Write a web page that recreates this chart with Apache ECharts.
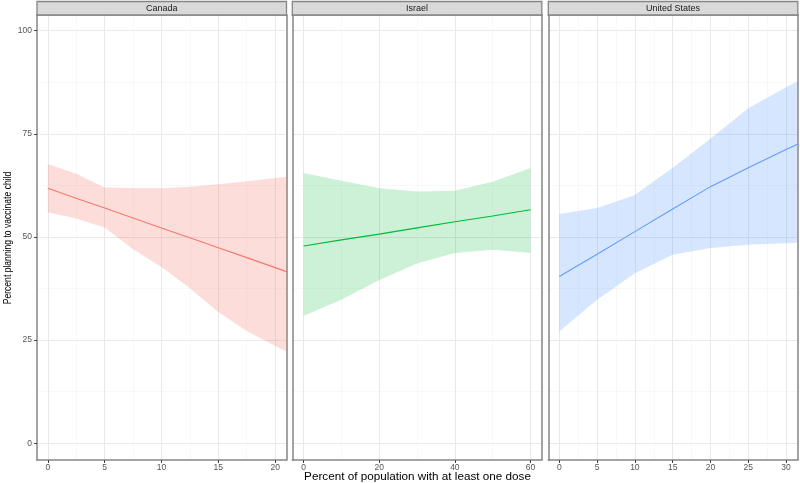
<!DOCTYPE html>
<html><head><meta charset="utf-8">
<script src="https://cdn.jsdelivr.net/npm/echarts@6/dist/echarts.min.js"></script>
<style>html,body{margin:0;padding:0;background:#fff}#c{width:800px;height:483px}</style>
</head><body><div id="c"></div>
<script>
// ---- data ----
const panelNames = ['Canada', 'Israel', 'United States'];
const canadaX = [0, 2.5, 5, 7.5, 10, 12.5, 15, 17.5, 21];
const canadaFit = [61.8, 59.4, 57.0, 54.6, 52.2, 49.8, 47.4, 45.0, 41.6];
const canadaLower = [56.0, 54.5, 52.3, 47.0, 42.7, 37.6, 31.8, 27.2, 22.2];
const canadaUpper = [67.7, 65.3, 62.0, 61.9, 61.8, 62.2, 62.8, 63.5, 64.6];
const israelX = [0, 10, 20, 30, 40, 50, 60];
const israelFit = [47.8, 49.3, 50.7, 52.2, 53.7, 55.1, 56.6];
const israelLower = [30.9, 34.8, 39.6, 43.6, 46.1, 46.9, 46.1];
const israelUpper = [65.5, 63.6, 61.8, 61.0, 61.2, 63.4, 66.7];
const usX = [0, 5, 10, 15, 20, 25, 30, 31.5];
const usFit = [40.4, 45.8, 51.3, 56.8, 62.2, 66.8, 71.2, 72.5];
const usLower = [27.1, 34.8, 41.2, 45.7, 47.3, 48.1, 48.5, 48.6];
const usUpper = [55.6, 57.0, 60.2, 66.8, 73.8, 81.2, 86.3, 87.7];
const yTicks = [0, 25, 50, 75, 100];
const yMinorTicks = [12.5, 37.5, 62.5, 87.5];
const canadaTicks = [0, 5, 10, 15, 20];
const canadaMinorTicks = [2.5, 7.5, 12.5, 17.5];
const israelTicks = [0, 20, 40, 60];
const israelMinorTicks = [10, 30, 50];
const usTicks = [0, 5, 10, 15, 20, 25, 30];
const usMinorTicks = [2.5, 7.5, 12.5, 17.5, 22.5, 27.5];
const xTitle = 'Percent of population with at least one dose';
const yTitle = 'Percent planning to vaccinate child';

// ---- layout / style ----
const panels = [
  {name: panelNames[0], x: canadaX, fit: canadaFit, lo: canadaLower, hi: canadaUpper, ticks: canadaTicks, minor: canadaMinorTicks, range: [-0.95, 21.0], color: '#F8766D', fill: 'rgba(248,118,109,0.25)'},
  {name: panelNames[1], x: israelX, fit: israelFit, lo: israelLower, hi: israelUpper, ticks: israelTicks, minor: israelMinorTicks, range: [-3, 63], color: '#00BA38', fill: 'rgba(0,186,56,0.2)'},
  {name: panelNames[2], x: usX, fit: usFit, lo: usLower, hi: usUpper, ticks: usTicks, minor: usMinorTicks, range: [-1.45, 31.55], color: '#619CFF', fill: 'rgba(97,156,255,0.25)'}
];
const lefts = [37, 292.3, 548.3];
const W = 249.5, TOP = 15, H = 445;
const Y_RANGE = [-4.05, 103.8];
const border = {color: '#858585', width: 1.5};
const majorGrid = {color: '#e9e9e9', width: 1};
const minorGrid = {color: '#f4f4f4', width: 0.6};
const FONT = 'Liberation Sans, Arial, sans-serif';

const grid = [], xAxis = [], yAxis = [], series = [], graphic = [];
panels.forEach((p, i) => {
  grid.push({left: lefts[i], top: TOP, width: W, height: H});
  xAxis.push({
    type: 'value', gridIndex: i, position: 'bottom', min: p.range[0], max: p.range[1],
    axisLine: {show: true, onZero: false, lineStyle: border},
    axisTick: {show: true, length: 3, customValues: p.ticks, lineStyle: {color: '#444', width: 1}},
    axisLabel: {show: true, customValues: p.ticks, margin: 3, fontSize: 8.5, color: '#555', fontFamily: FONT},
    splitLine: {show: true, lineStyle: majorGrid}
  });
  xAxis.push({
    type: 'value', gridIndex: i, position: 'top', min: p.range[0], max: p.range[1],
    axisLine: {show: true, onZero: false, lineStyle: border},
    axisTick: {show: false, customValues: p.minor},
    axisLabel: {show: false, customValues: p.minor},
    splitLine: {show: true, lineStyle: minorGrid}
  });
  yAxis.push({
    type: 'value', gridIndex: i, position: 'left', min: Y_RANGE[0], max: Y_RANGE[1],
    axisLine: {show: true, onZero: false, lineStyle: border},
    axisTick: {show: i === 0, length: 3, customValues: yTicks, lineStyle: {color: '#444', width: 1}},
    axisLabel: {show: i === 0, customValues: yTicks, margin: 5, fontSize: 8.5, color: '#555', fontFamily: FONT},
    splitLine: {show: true, lineStyle: majorGrid}
  });
  yAxis.push({
    type: 'value', gridIndex: i, position: 'right', min: Y_RANGE[0], max: Y_RANGE[1],
    axisLine: {show: true, onZero: false, lineStyle: border},
    axisTick: {show: false, customValues: yMinorTicks},
    axisLabel: {show: false, customValues: yMinorTicks},
    splitLine: {show: true, lineStyle: minorGrid}
  });
  const xi = i * 2, yi = i * 2;
  // confidence ribbon: polygon through upper points then lower points reversed
  series.push({
    type: 'custom', xAxisIndex: xi, yAxisIndex: yi, silent: true, z: 2, clip: true,
    data: [[p.x[0], p.fit[0]]],
    renderItem: function (params, api) {
      const pts = [];
      for (let k = 0; k < p.x.length; k++) pts.push(api.coord([p.x[k], p.hi[k]]));
      for (let k = p.x.length - 1; k >= 0; k--) pts.push(api.coord([p.x[k], p.lo[k]]));
      return {type: 'polygon', shape: {points: pts}, style: {fill: p.fill}};
    }
  });
  series.push({
    type: 'line', xAxisIndex: xi, yAxisIndex: yi, symbol: 'none', z: 3,
    lineStyle: {color: p.color, width: 1.1},
    data: p.x.map((x, k) => [x, p.fit[k]])
  });
  // facet strip
  graphic.push({type: 'rect', shape: {x: lefts[i], y: 1.5, width: W, height: 13.5},
    style: {fill: '#d9d9d9', stroke: border.color, lineWidth: 1.3}, z: 10});
  graphic.push({type: 'text', x: lefts[i] + W / 2, y: 8.3,
    style: {text: p.name, fill: '#1a1a1a', font: '9px ' + FONT, textAlign: 'center', textVerticalAlign: 'middle'}, z: 11});
});
graphic.push({type: 'text', x: 417.5, y: 476.5,
  style: {text: xTitle, fill: '#000', font: '11.7px ' + FONT, textAlign: 'center', textVerticalAlign: 'middle'}});
graphic.push({type: 'text', x: 7.5, y: 238, rotation: Math.PI / 2, scaleX: 0.78,
  style: {text: yTitle, fill: '#000', font: '11px ' + FONT, textAlign: 'center', textVerticalAlign: 'middle'}});

const chart = echarts.init(document.getElementById('c'), null, {renderer: 'canvas'});
chart.setOption({animation: false, backgroundColor: '#fff', grid, xAxis, yAxis, series, graphic});
</script>
</body></html>
